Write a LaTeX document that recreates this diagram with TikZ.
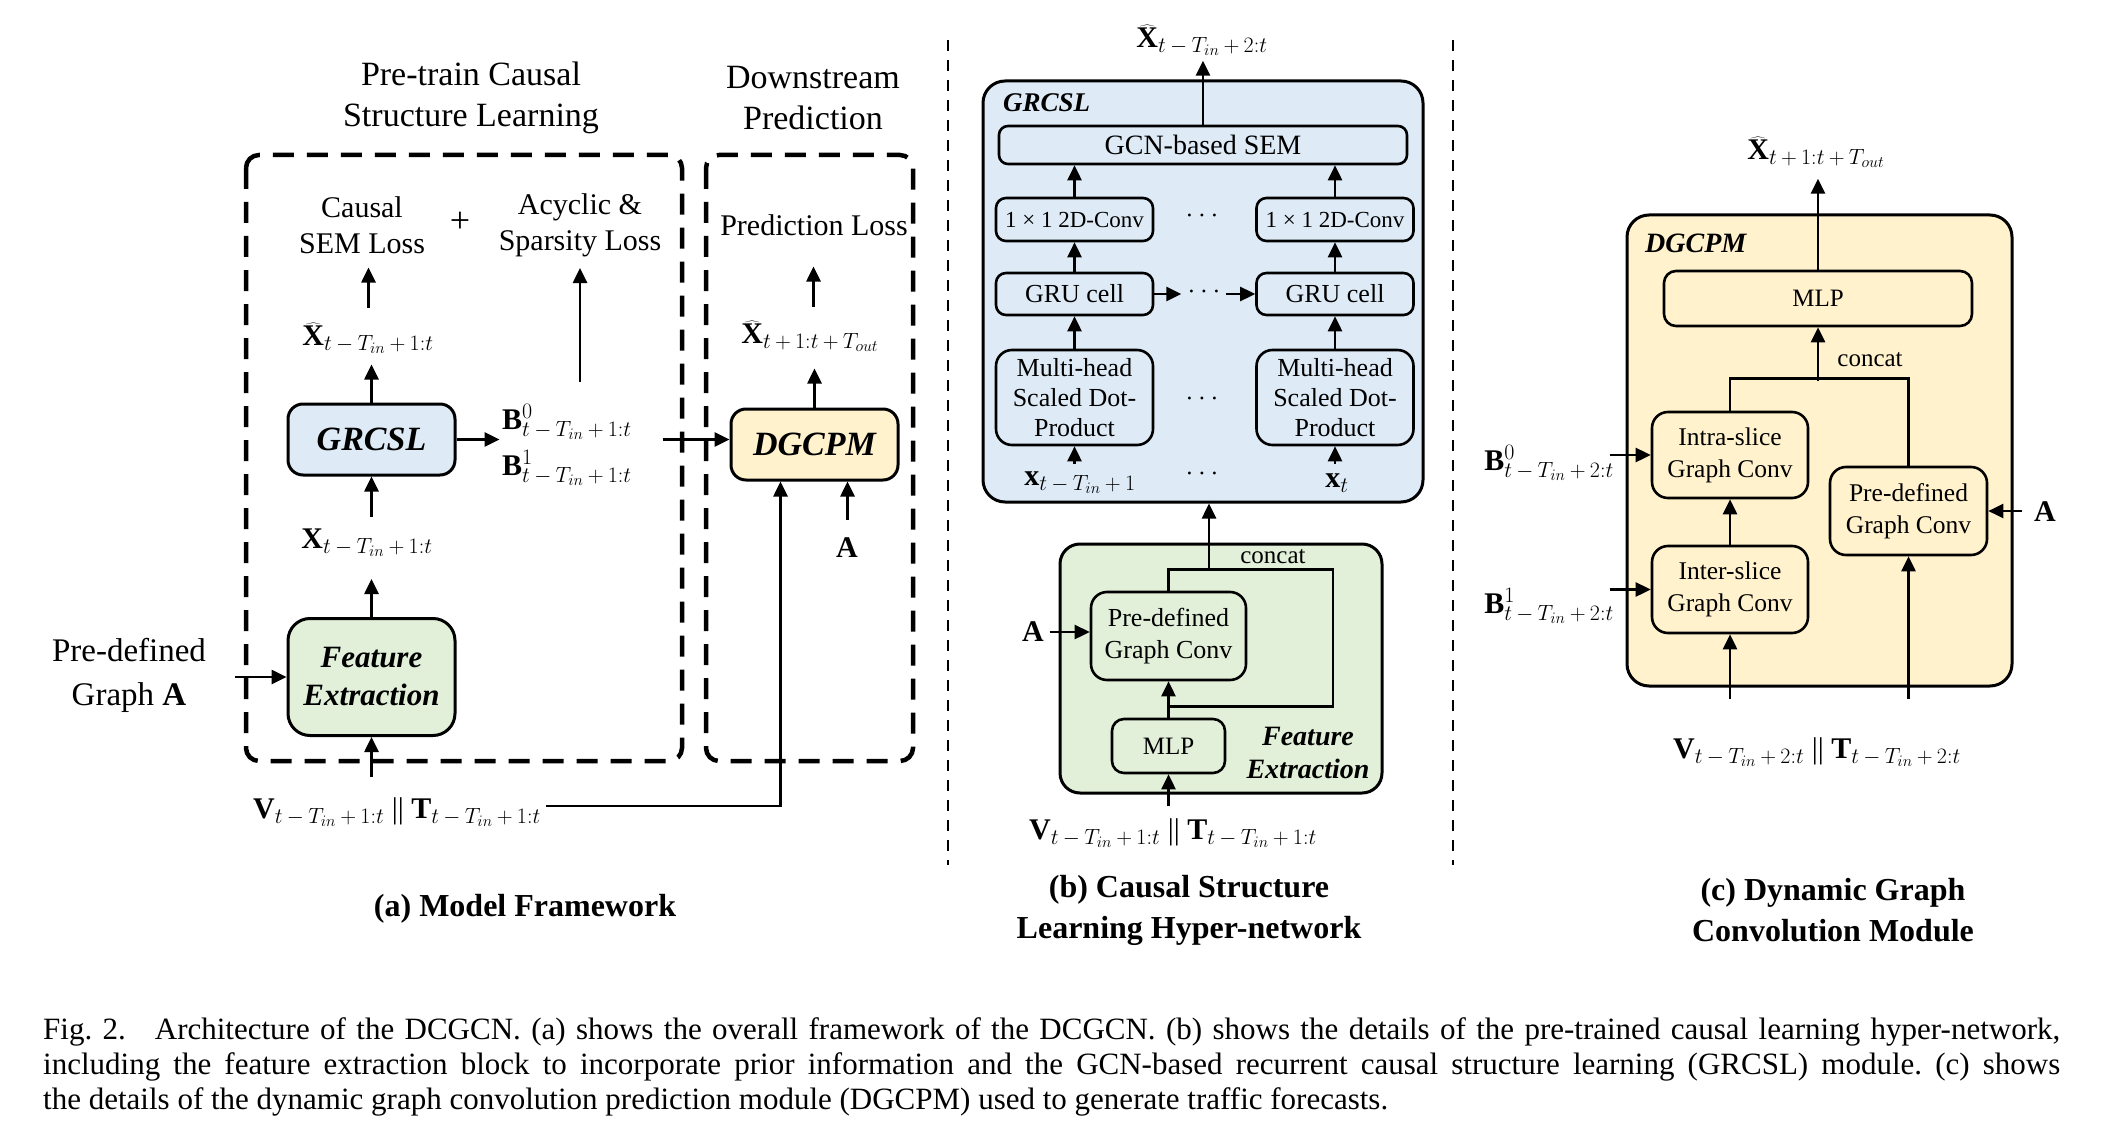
\RequirePackage{fix-cm}
\documentclass[tikz,border=0pt]{standalone}
\usepackage{fontspec}
\setmainfont{Liberation Serif}
\usetikzlibrary{arrows.meta,calc}
\definecolor{cblue}{HTML}{DEEBF7}
\definecolor{cgreen}{HTML}{E2F0D9}
\definecolor{cyellow}{HTML}{FFF2CC}
\DeclareMathSizes{30}{30}{22}{16}
\newcommand{\myfs}[2]{\fontsize{#1}{#2}\selectfont}
\newcommand{\mysp}{\mskip3.5mu\relax}
\newcommand{\subA}{t\mysp-\mysp T_{in}\mysp+\mysp 1{:}t}
\newcommand{\subB}{t\mysp-\mysp T_{in}\mysp+\mysp 2{:}t}
\newcommand{\subC}{t\mysp+\mysp 1{:}t\mysp+\mysp T_{out}}
\newcommand{\subD}{t\mysp-\mysp T_{in}\mysp+\mysp 1}
\begin{document}
\frenchspacing
\begin{tikzpicture}[x=1pt,y=-1pt,
  ln/.style={line width=2.6pt, line join=miter},
  arr/.style={line width=2.6pt, -{Triangle[length=15pt,width=14pt]}},
  dbox/.style={line width=4.5pt, dash pattern=on 21pt off 13pt, rounded corners=13pt},
  sep/.style={line width=2.4pt, dash pattern=on 11pt off 9pt},
  bigbox/.style={draw, line width=3pt, align=center, inner sep=0pt},
  ibox/.style={draw, line width=2.6pt, align=center, inner sep=0pt, rounded corners=12pt},
  lbl/.style={inner sep=2pt, align=center, font=\myfs{30}{36}}]
\fill[white] (0,0) rectangle (2118,1134);
\useasboundingbox (0,0) rectangle (2118,1134);

% ---------------- Panel (a) ----------------
\node[lbl, font=\myfs{34}{41}] (ptA) at (471,98) {Pre-train Causal\\Structure Learning};
\node[lbl, font=\myfs{34}{41}] (dsA) at (813,98) {Downstream\\Prediction};
\draw[dbox] (246,155) rectangle (682,761);
\draw[dbox] (706,155) rectangle (913,761);
\node[lbl] (cslA) at (362,225) {Causal\\SEM Loss};
\node[lbl, font=\myfs{36}{36}] (plusA) at (460,222) {+};
\node[lbl] (aslA) at (580,225) {Acyclic \&\\Sparsity Loss};
\node[lbl] (plA) at (814,225) {Prediction Loss};

\node[bigbox, fill=cblue, rounded corners=15pt, minimum width=167pt, minimum height=71pt,
  font=\bfseries\itshape\myfs{34}{40}] (grcslA) at (371.5,439.5) {GRCSL};
\node[bigbox, fill=cgreen, rounded corners=22pt, minimum width=167pt, minimum height=117pt,
  font=\bfseries\itshape\myfs{31}{38}] (feA) at (371.5,677) {Feature\\Extraction};
\node[bigbox, fill=cyellow, rounded corners=15pt, minimum width=167pt, minimum height=71pt,
  font=\bfseries\itshape\myfs{34}{40}] (dgA) at (814.5,444.5) {DGCPM};

\node[lbl] (xhA) at (368,338) {$\widehat{\mathbf{X}}_{\subA}$};
\node[lbl] (xA) at (367,543) {$\mathbf{X}_{\subA}$};
\node[lbl, anchor=west] (b0A) at (500,422) {$\mathbf{B}^{0}_{\subA}$};
\node[lbl, anchor=west] (b1A) at (500,468) {$\mathbf{B}^{1}_{\subA}$};
\node[lbl] (xoA) at (810,336) {$\widehat{\mathbf{X}}_{\subC}$};
\node[lbl] (aA) at (847,548) {$\mathbf{A}$};
\node[lbl] (vtA) at (397,812) {$\mathbf{V}_{\subA}$ || $\mathbf{T}_{\subA}$};
\node[lbl, font=\myfs{33}{44}] (pgA) at (129,675) {Pre-defined\\Graph \textbf{A}};
\node[lbl, font=\bfseries\myfs{32}{40}] (capA) at (525,909) {(a) Model Framework};

\draw[arr] (grcslA.north) -- ++(0,-38);
\draw[arr] ($(grcslA.north)+(-3,-95)$) -- ++(0,-40);
\draw[arr] (feA.north) -- ++(0,-38);
\draw[arr] ($(grcslA.south)+(0,40)$) -- (grcslA.south);
\draw[arr] ($(feA.south)+(0,40)$) -- (feA.south);
\draw[arr] (grcslA.east) -- ++(43,0);
\draw[arr] ($(grcslA.east)+(206,0)$) -- (grcslA.east -| dgA.west);
\draw[arr] ($(aslA.center)+(0,157)$) -- ++(0,-114);
\draw[arr] (dgA.north) -- ++(0,-39);
\draw[arr] ($(dgA.north)+(-1,-101)$) -- ++(0,-40);
\draw[arr] ($(dgA.south)+(33,38)$) -- ++(0,-38);
\draw[arr] ($(vtA.east)+(3,-6)$) -| ($(dgA.south)+(-34,0)$);
\draw[arr] ($(feA.west)+(-52,0)$) -- (feA.west);

% ---------------- separators ----------------
\draw[sep] (948,40) -- (948,865);
\draw[sep] (1453,40) -- (1453,865);

% ---------------- Panel (b) ----------------
\node[bigbox, fill=cblue, rounded corners=22pt, minimum width=440pt, minimum height=421pt] (grcslB) at (1203,291.5) {};
\node[anchor=west, inner sep=0pt, font=\bfseries\itshape\myfs{27}{32}] (grcslBl) at (1003,103) {GRCSL};
\node[ibox, minimum width=408pt, minimum height=38pt, rounded corners=9pt, font=\myfs{28}{32}] (semB) at (1203,145) {GCN-based SEM};
\node[ibox, minimum width=157pt, minimum height=43pt, rounded corners=10pt, font=\myfs{23}{28}] (convL) at (1074.5,219.5) {1 × 1 2D-Conv};
\node[ibox, minimum width=157pt, minimum height=43pt, rounded corners=10pt, font=\myfs{23}{28}] (convR) at (1335,219.5) {1 × 1 2D-Conv};
\node[ibox, minimum width=157pt, minimum height=42pt, rounded corners=10pt, font=\myfs{26}{30}] (gruL) at (1074.5,294) {GRU cell};
\node[ibox, minimum width=157pt, minimum height=42pt, rounded corners=10pt, font=\myfs{26}{30}] (gruR) at (1335,294) {GRU cell};
\node[ibox, minimum width=157pt, minimum height=95pt, rounded corners=16pt, font=\myfs{26}{30}] (mhL) at (1074.5,397.5) {Multi-head\\Scaled Dot-\\Product};
\node[ibox, minimum width=157pt, minimum height=95pt, rounded corners=16pt, font=\myfs{26}{30}] (mhR) at (1335,397.5) {Multi-head\\Scaled Dot-\\Product};
\node[lbl] (xLB) at (1080,483) {$\mathbf{x}_{\subD}$};
\node[lbl] (xRB) at (1337,483) {$\mathbf{x}_{t}$};
\node[lbl, font=\myfs{28}{30}] (d1B) at (1202,216) {$\cdots$};
\node[lbl, font=\myfs{28}{30}] (d2B) at (1204,292) {$\cdots$};
\node[lbl, font=\myfs{28}{30}] (d3B) at (1202,399) {$\cdots$};
\node[lbl, font=\myfs{28}{30}] (d4B) at (1202,474) {$\cdots$};
\node[lbl] (xhB) at (1202,40) {$\widehat{\mathbf{X}}_{\subB}$};

\draw[arr] (semB.north) -- ++(0,-64);
\draw[arr] (convL.north) -- (convL.north |- semB.south);
\draw[arr] (convR.north) -- (convR.north |- semB.south);
\draw[arr] (gruL.north) -- (convL.south);
\draw[arr] (gruR.north) -- (convR.south);
\draw[arr] (mhL.north) -- (gruL.south);
\draw[arr] (mhR.north) -- (gruR.south);
\draw[arr] ($(mhL.south)+(0,18)$) -- (mhL.south);
\draw[arr] ($(mhR.south)+(0,18)$) -- (mhR.south);
\draw[arr] (gruL.east) -- ++(27,0);
\draw[arr] ($(gruR.west)+(-29,0)$) -- (gruR.west);

\node[bigbox, fill=cgreen, rounded corners=20pt, minimum width=322pt, minimum height=249pt] (feB) at (1221,668.5) {};
\node[ibox, minimum width=155pt, minimum height=88pt, rounded corners=16pt, font=\myfs{26}{32}] (pgcB) at (1168.5,636) {Pre-defined\\Graph Conv};
\node[ibox, minimum width=113pt, minimum height=54pt, rounded corners=12pt, font=\myfs{25}{30}] (mlpB) at (1168.5,746) {MLP};
\node[lbl, font=\myfs{25}{30}] (ccB) at (1273,557) {concat};
\node[lbl, font=\bfseries\itshape\myfs{28}{33}] (feBl) at (1308,753) {Feature\\Extraction};
\node[lbl] (aB) at (1033,632) {$\mathbf{A}$};
\node[lbl] (vtB) at (1173,833) {$\mathbf{V}_{\subA}$ || $\mathbf{T}_{\subA}$};
\node[lbl, font=\bfseries\myfs{32}{41}] (capB) at (1189,910) {(b) Causal Structure\\Learning Hyper-network};

\draw[ln] (pgcB.north) -- ++(0,-21) -- ++(164.5,0) -- ++(0,137) -- ++(-164.5,0);
\draw[arr] (mlpB.north) -- (pgcB.south);
\draw[arr] ($(pgcB.north)+(40.5,-21)$) -- ($(grcslB.south)+(6,0)$);
\draw[arr] ($(pgcB.west)+(-40,-4)$) -- ++(40,0);
\draw[arr] ($(mlpB.south)+(0,32)$) -- (mlpB.south);

% ---------------- Panel (c) ----------------
\node[bigbox, fill=cyellow, rounded corners=22pt, minimum width=385pt, minimum height=471pt] (dgC) at (1819.5,450.5) {};
\node[anchor=west, inner sep=0pt, font=\bfseries\itshape\myfs{28}{32}] (dgCl) at (1645,243) {DGCPM};
\node[ibox, minimum width=308pt, minimum height=55pt, rounded corners=12pt, font=\myfs{25}{30}] (mlpC) at (1818,298.5) {MLP};
\node[ibox, minimum width=156pt, minimum height=86pt, rounded corners=16pt, font=\myfs{25.5}{32}] (intraC) at (1730,455) {Intra-slice\\Graph Conv};
\node[ibox, minimum width=156pt, minimum height=87pt, rounded corners=16pt, font=\myfs{25.5}{32}] (interC) at (1730,589.5) {Inter-slice\\Graph Conv};
\node[ibox, minimum width=157pt, minimum height=88pt, rounded corners=16pt, font=\myfs{25.5}{32}] (pgcC) at (1908.5,511) {Pre-defined\\Graph Conv};
\node[lbl, font=\myfs{25}{30}] (ccC) at (1870,360) {concat};
\node[lbl] (xoC) at (1816,152) {$\widehat{\mathbf{X}}_{\subC}$};
\node[lbl, anchor=east] (b0C) at (1616,463) {$\mathbf{B}^{0}_{\subB}$};
\node[lbl, anchor=east] (b1C) at (1616,606) {$\mathbf{B}^{1}_{\subB}$};
\node[lbl] (aC) at (2045,512) {$\mathbf{A}$};
\node[lbl] (vtC) at (1817,752) {$\mathbf{V}_{\subB}$ || $\mathbf{T}_{\subB}$};
\node[lbl, font=\bfseries\myfs{32}{41}] (capC) at (1833,910) {(c) Dynamic Graph\\Convolution Module};

\draw[arr] (mlpC.north) -- ++(0,-91);
\draw[ln] (intraC.north) |- ($(pgcC.north)+(0,-87)$) -- (pgcC.north);
\draw[arr] ($(mlpC.south)+(0,54)$) -- (mlpC.south);
\draw[arr] (interC.north) -- (intraC.south);
\draw[arr] ($(interC.south)+(0,65)$) -- (interC.south);
\draw[arr] ($(pgcC.south)+(0,143)$) -- (pgcC.south);
\draw[arr] ($(intraC.west)+(-41,0)$) -- (intraC.west);
\draw[arr] ($(interC.west)+(-41,0)$) -- (interC.west);
\draw[arr] ($(pgcC.east)+(34,0)$) -- (pgcC.east);

% ---------------- caption ----------------
\node[anchor=north west, inner sep=0pt, text width=2017pt, align=justify, font=\myfs{31}{35}] (cap) at (43,1017)
 {Fig.~2.\hspace{0.6em} Architecture of the DCGCN. (a) shows the overall framework of the DCGCN. (b) shows the details of the pre-trained causal learning hyper-network,\linebreak
 including the feature extraction block to incorporate prior information and the GCN-based recurrent causal structure learning (GRCSL) module. (c) shows\linebreak
 the details of the dynamic graph convolution prediction module (DGCPM) used to generate traffic forecasts.};
\end{tikzpicture}
\end{document}
